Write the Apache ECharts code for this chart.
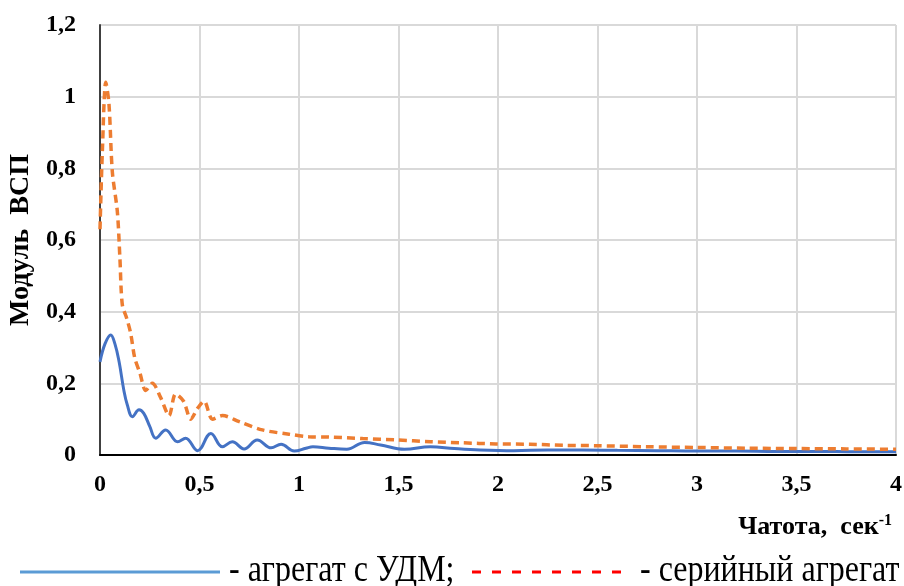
<!DOCTYPE html>
<html>
<head>
<meta charset="utf-8">
<script src="https://cdn.jsdelivr.net/npm/echarts@6/dist/echarts.min.js"></script>
<style>
  html, body { margin: 0; padding: 0; background: #fff; }
  #chart { width: 904px; height: 586px; }
</style>
</head>
<body>
<div id="chart"></div>
<script>
// --- data ---
const freqUdm = [0, 0.025, 0.054, 0.075, 0.096, 0.12, 0.137, 0.163, 0.196, 0.22, 0.25, 0.28, 0.33, 0.39, 0.43, 0.49, 0.557, 0.615, 0.665, 0.724, 0.79, 0.86, 0.91, 0.976, 1.035, 1.07, 1.15, 1.24, 1.33, 1.41, 1.53, 1.66, 1.78, 1.91, 2.08, 2.25, 2.42, 2.6, 2.8, 3.0, 3.2, 3.4, 3.6, 3.8, 4.0];
const valUdm  = [0.26, 0.31, 0.335, 0.31, 0.26, 0.18, 0.14, 0.107, 0.126, 0.116, 0.08, 0.047, 0.07, 0.037, 0.047, 0.012, 0.06, 0.023, 0.037, 0.017, 0.042, 0.02, 0.03, 0.011, 0.019, 0.023, 0.019, 0.016, 0.035, 0.028, 0.016, 0.023, 0.018, 0.014, 0.012, 0.014, 0.014, 0.013, 0.012, 0.011, 0.011, 0.010, 0.010, 0.009, 0.009];

const freqSer = [0, 0.012, 0.029, 0.045, 0.062, 0.087, 0.1, 0.112, 0.135, 0.154, 0.175, 0.2, 0.23, 0.263, 0.305, 0.347, 0.38, 0.42, 0.456, 0.49, 0.523, 0.565, 0.615, 0.7, 0.816, 0.95, 1.05, 1.15, 1.32, 1.49, 1.66, 1.82, 1.99, 2.16, 2.33, 2.49, 2.75, 3.0, 3.25, 3.5, 3.75, 4.0];
const valSer  = [0.63, 0.85, 1.04, 0.98, 0.79, 0.68, 0.55, 0.42, 0.38, 0.34, 0.27, 0.23, 0.18, 0.2, 0.16, 0.11, 0.17, 0.15, 0.10, 0.13, 0.15, 0.10, 0.11, 0.093, 0.07, 0.058, 0.051, 0.05, 0.046, 0.042, 0.037, 0.034, 0.031, 0.03, 0.027, 0.026, 0.023, 0.021, 0.019, 0.018, 0.017, 0.016];

const seriesNames = ['- агрегат с УДМ;', '- серийный агрегат'];
const yName = 'Модуль  ВСП';
const xName = 'Чатота,  сек';

const C = { udm: '#4472C4', ser: '#ED7D31', grid: '#D9D9D9', legendRed: '#FF0000', legendBlue: '#5B9BD5' };
const serif = '"Times New Roman", "Liberation Serif", "DejaVu Serif", serif';
const comma = v => String(+v.toFixed(1)).replace('.', ',');

const chart = echarts.init(document.getElementById('chart'));
chart.setOption({
  animation: false,
  backgroundColor: '#fff',
  grid: { left: 100, top: 25, width: 796, height: 430, outerBoundsMode: 'none', containLabel: false },
  xAxis: {
    type: 'value', min: 0, max: 4, interval: 0.5,
    axisLine: { lineStyle: { color: '#000', width: 2 } },
    axisTick: { show: false },
    axisLabel: { formatter: comma, color: '#000', fontFamily: serif, fontWeight: 'bold', fontSize: 24, margin: 18 },
    splitLine: { lineStyle: { color: C.grid, width: 2 } },
  },
  yAxis: {
    type: 'value', min: 0, max: 1.2, interval: 0.2,
    name: yName, nameLocation: 'middle', nameGap: 64, nameRotate: 90,
    nameTextStyle: { color: '#000', fontFamily: serif, fontWeight: 'bold', fontSize: 28 },
    axisLine: { show: true, lineStyle: { color: '#404040', width: 2 } },
    axisTick: { show: false },
    axisLabel: { formatter: comma, color: '#000', fontFamily: serif, fontWeight: 'bold', fontSize: 24, margin: 24 },
    splitLine: { lineStyle: { color: C.grid, width: 2 } },
  },
  series: [
    { name: seriesNames[0], type: 'line', data: freqUdm.map((f, i) => [f, valUdm[i]]), smooth: 0.4, symbol: 'none',
      lineStyle: { color: C.udm, width: 3 } },
    { name: seriesNames[1], type: 'line', data: freqSer.map((f, i) => [f, valSer[i]]), smooth: 0.3, symbol: 'none',
      lineStyle: { color: C.ser, width: 3.5, type: [8, 5] } },
  ],
  graphic: [
    { type: 'text', right: 12, top: 513, style: {
        text: '{b|' + xName + '}{s|-1}', rich: {
          b: { fontFamily: serif, fontWeight: 'bold', fontSize: 26, fill: '#000' },
          s: { fontFamily: serif, fontWeight: 'bold', fontSize: 16, fill: '#000', verticalAlign: 'top', padding: [0, 0, 13, 0] },
        } } },
    // legend row at the bottom
    { type: 'line', shape: { x1: 20, y1: 572, x2: 220, y2: 572 }, style: { stroke: C.legendBlue, lineWidth: 3 } },
    { type: 'text', x: 229, y: 571, scaleY: 1.2, style: { text: seriesNames[0], fontFamily: serif, fontSize: 32, fill: '#000', verticalAlign: 'middle' } },
    { type: 'line', shape: { x1: 472, y1: 572, x2: 630, y2: 572 }, style: { stroke: C.legendRed, lineWidth: 3, lineDash: [9, 11] } },
    { type: 'text', x: 640, y: 571, scaleY: 1.2, style: { text: seriesNames[1], fontFamily: serif, fontSize: 32, fill: '#000', verticalAlign: 'middle' } },
  ],
});
</script>
</body>
</html>
